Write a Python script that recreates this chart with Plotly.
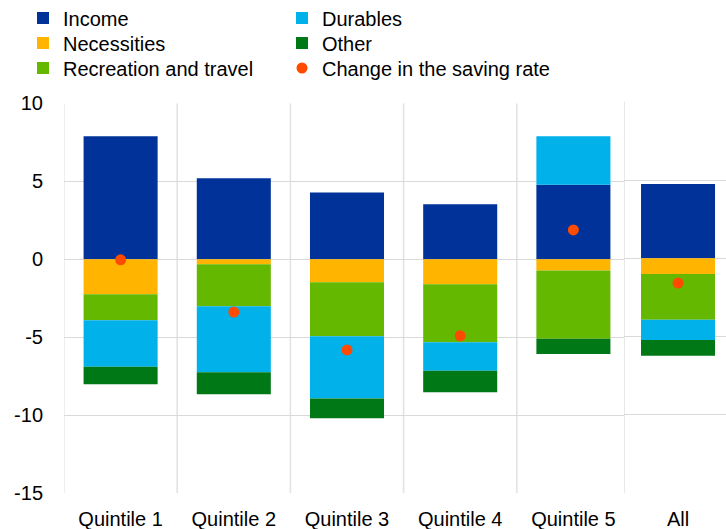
import plotly.graph_objects as go

# ---- data ----
quintiles = ["Quintile 1", "Quintile 2", "Quintile 3", "Quintile 4", "Quintile 5"]
total_label = ["All"]

income_q = [7.88, 5.19, 4.29, 3.53, 4.78]
necessities_q = [-2.24, -0.32, -1.47, -1.60, -0.71]
recreation_q = [-1.67, -2.69, -3.47, -3.72, -4.38]
durables_q = [-2.97, -4.23, -3.99, -1.82, 3.10]
other_q = [-1.13, -1.41, -1.26, -1.39, -0.98]
saving_q = [-0.03, -3.38, -5.81, -4.90, 1.88]

income_all = [4.74]
necessities_all = [-1.00]
recreation_all = [-2.92]
durables_all = [-1.30]
other_all = [-1.00]
saving_all = [-1.58]

series_names = ["Income", "Necessities", "Recreation and travel", "Durables", "Other"]
saving_name = "Change in the saving rate"
y_ticks = [-15, -10, -5, 0, 5, 10]

# ---- styles ----
colors = {
    "Income": "#003299",
    "Necessities": "#FFB400",
    "Recreation and travel": "#65B800",
    "Durables": "#00B1EA",
    "Other": "#007816",
}
legend_row = {"Income": "legend", "Durables": "legend",
              "Necessities": "legend2", "Other": "legend2",
              "Recreation and travel": "legend3", saving_name: "legend3"}
first_col = {"Income", "Necessities", "Recreation and travel"}
dot_color = "#FF4B00"
grid = "#d9d9d9"
vgrid = "#e3e3e3"
FONT = "Liberation Sans, Arial, sans-serif"
COL_W = 214

left_vals = [income_q, necessities_q, recreation_q, durables_q, other_q]
all_vals = [income_all, necessities_all, recreation_all, durables_all, other_all]

fig = go.Figure()
for name, yq, ya in zip(series_names, left_vals, all_vals):
    extra = dict(legendwidth=COL_W) if name in first_col else {}
    fig.add_trace(go.Bar(x=quintiles, y=yq, name=name, marker_color=colors[name],
                         marker_line_width=0, width=0.654, legendgroup=name,
                         legend=legend_row[name],
                         legendrank=1 if name in first_col else 2,
                         xaxis="x", yaxis="y", **extra))
    fig.add_trace(go.Bar(x=total_label, y=ya, name=name, marker_color=colors[name],
                         marker_line_width=0, width=0.685, legendgroup=name,
                         showlegend=False, xaxis="x2", yaxis="y2"))

fig.add_trace(go.Scatter(x=quintiles, y=saving_q, mode="markers",
                         name=saving_name,
                         marker=dict(color=dot_color, size=11),
                         legendgroup="sav", legend=legend_row[saving_name],
                         legendrank=2, xaxis="x", yaxis="y"))
fig.add_trace(go.Scatter(x=total_label, y=saving_all, mode="markers",
                         name=saving_name,
                         marker=dict(color=dot_color, size=11),
                         legendgroup="sav", showlegend=False, xaxis="x2", yaxis="y2"))

W, H = 726, 529
ml, mr, mt, mb = 64, 0, 101, 35
pw = W - ml - mr
ph = H - mt - mb

left_end = (630 - ml) / pw
right_start = (624 - ml) / pw

shapes = []
for xv in [-0.5, 0.5, 1.5, 2.5, 3.5, 4.5]:
    shapes.append(dict(type="line", xref="x", yref="y", x0=xv, x1=xv, y0=-15, y1=10,
                       line=dict(color=vgrid, width=1.2 if xv == -0.5 else 1.6),
                       layer="below"))
shapes.append(dict(type="line", xref="x2", yref="y2", x0=-0.5, x1=-0.5, y0=-15, y1=10,
                   line=dict(color=vgrid, width=1.6), layer="below"))

axis_font = dict(family=FONT, size=20, color="#000000")


def legend_box(center_px):
    return dict(orientation="h", xref="container", yref="container",
                x=23 / W, xanchor="left", y=1 - center_px / H, yanchor="middle",
                font=dict(family=FONT, size=20, color="#000000"),
                itemclick=False, itemdoubleclick=False,
                bgcolor="rgba(0,0,0,0)", borderwidth=0)


fig.update_layout(
    width=W, height=H,
    margin=dict(l=ml, r=mr, t=mt, b=mb, autoexpand=False),
    paper_bgcolor="white", plot_bgcolor="white",
    barmode="relative",
    font=dict(family=FONT, size=20, color="#000000"),
    showlegend=True,
    hovermode=False,
    legend=legend_box(18),
    legend2=legend_box(43),
    legend3=legend_box(68),
    xaxis=dict(domain=[0, left_end], range=[-0.5, 4.5], type="category",
               categoryorder="array", categoryarray=quintiles,
               showgrid=False, zeroline=False, showline=False,
               ticks="outside", ticklen=8, tickcolor="rgba(0,0,0,0)",
               tickfont=axis_font, anchor="y"),
    xaxis2=dict(domain=[right_start, 1], range=[-0.5, 0.444], type="category",
                showgrid=False, zeroline=False, showline=False,
                ticks="outside", ticklen=8, tickcolor="rgba(0,0,0,0)",
                tickfont=axis_font, anchor="y2"),
    yaxis=dict(domain=[(494 - 493.3) / ph, (494 - 103.3) / ph], range=[-15, 10],
               tickvals=y_ticks, ticktext=[str(v) for v in y_ticks],
               showgrid=True, gridcolor=grid, gridwidth=1, zeroline=False,
               showline=False, ticks="outside", ticklen=16,
               tickcolor="rgba(0,0,0,0)", tickfont=axis_font, anchor="x"),
    yaxis2=dict(domain=[(494 - 493.3) / ph, (494 - 101.7) / ph], range=[-15, 10],
                tickvals=y_ticks, showticklabels=False,
                showgrid=True, gridcolor=grid, gridwidth=1, zeroline=False,
                showline=False, ticks="", anchor="x2"),
    shapes=shapes,
)

fig.write_html("out.html", config={"displayModeBar": False, "staticPlot": True},
               post_script="document.body.style.margin='0';")
